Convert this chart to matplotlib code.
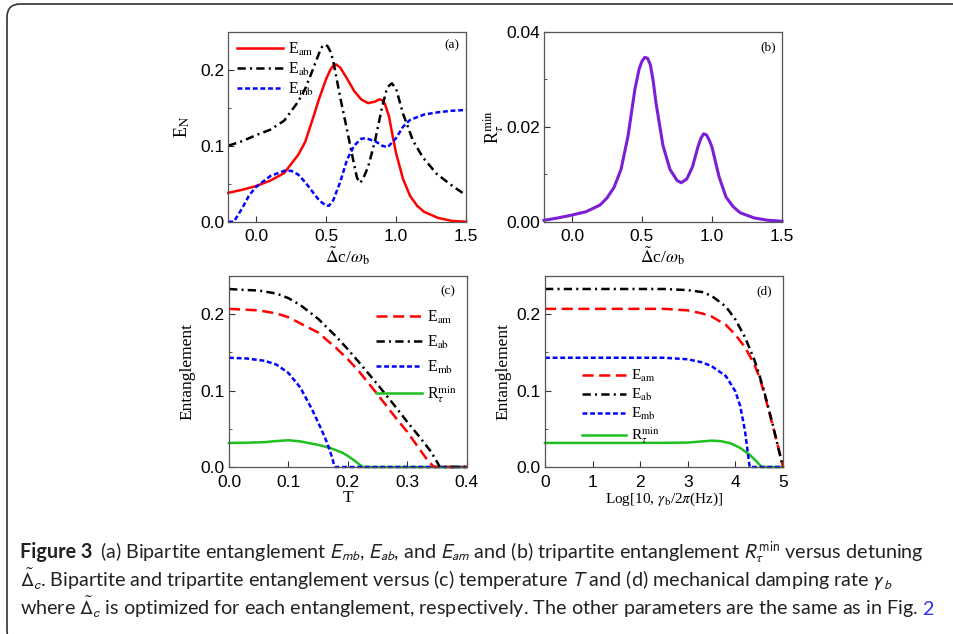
import numpy as np
import matplotlib
matplotlib.use("Agg")
import matplotlib.pyplot as plt
from matplotlib.patches import FancyBboxPatch
from matplotlib.ticker import MultipleLocator

plt.rcParams['font.family'] = ['Liberation Serif', 'DejaVu Serif']
plt.rcParams['mathtext.fontset'] = 'stix'
plt.rcParams['lines.scale_dashes'] = False

# ---- panel (a): E_N vs detuning ----
xa_am = [-0.2, -0.1, 0.0, 0.1, 0.2, 0.3, 0.35, 0.4, 0.45, 0.5, 0.53, 0.55, 0.57, 0.6, 0.65,
         0.7, 0.75, 0.8, 0.85, 0.88, 0.9, 0.92, 0.95, 0.97, 1.0, 1.05, 1.1, 1.15, 1.2, 1.3,
         1.4, 1.5]
ea_am = [0.038, 0.042, 0.047, 0.054, 0.064, 0.088, 0.105, 0.133, 0.162, 0.188, 0.200, 0.205,
         0.207, 0.203, 0.188, 0.172, 0.161, 0.156, 0.158, 0.161, 0.160, 0.155, 0.138, 0.118,
         0.090, 0.056, 0.034, 0.021, 0.013, 0.005, 0.001, 0.0]
xa_ab = [-0.2, -0.1, 0.0, 0.1, 0.2, 0.3, 0.35, 0.4, 0.45, 0.47, 0.49, 0.51, 0.53, 0.55, 0.6,
         0.65, 0.7, 0.72, 0.74, 0.76, 0.8, 0.85, 0.9, 0.93, 0.95, 0.97, 1.0, 1.05, 1.12, 1.19,
         1.29, 1.41, 1.5]
ea_ab = [0.100, 0.106, 0.114, 0.121, 0.133, 0.158, 0.175, 0.198, 0.222, 0.230, 0.233, 0.231,
         0.224, 0.212, 0.164, 0.120, 0.075, 0.058, 0.051, 0.055, 0.072, 0.107, 0.151, 0.172,
         0.179, 0.182, 0.175, 0.142, 0.107, 0.085, 0.063, 0.046, 0.035]
xa_mb = [-0.2, -0.16, -0.1, -0.05, 0.0, 0.1, 0.2, 0.25, 0.3, 0.35, 0.4, 0.45, 0.5, 0.52, 0.55,
         0.6, 0.65, 0.7, 0.75, 0.78, 0.85, 0.9, 0.94, 1.0, 1.05, 1.1, 1.2, 1.3, 1.4, 1.5]
ea_mb = [0.0, 0.0, 0.018, 0.035, 0.046, 0.060, 0.067, 0.067, 0.062, 0.052, 0.040, 0.028, 0.021,
         0.021, 0.028, 0.052, 0.082, 0.100, 0.109, 0.110, 0.106, 0.100, 0.098, 0.110, 0.125,
         0.134, 0.141, 0.144, 0.146, 0.147]

# ---- panel (b): R_tau^min vs detuning ----
xb = [-0.2, -0.1, 0.0, 0.1, 0.2, 0.25, 0.3, 0.35, 0.4, 0.45, 0.48, 0.5, 0.52, 0.54, 0.56, 0.58,
      0.6, 0.65, 0.7, 0.75, 0.78, 0.82, 0.86, 0.9, 0.92, 0.94, 0.96, 0.98, 1.0, 1.05, 1.1,
      1.15, 1.2, 1.3, 1.4, 1.5]
rb = [0.0003, 0.0008, 0.0014, 0.0021, 0.0035, 0.0050, 0.0072, 0.0110, 0.0180, 0.0280, 0.0322,
      0.0338, 0.0346, 0.0344, 0.0330, 0.0296, 0.0250, 0.0160, 0.0110, 0.0087, 0.0082, 0.0090,
      0.0115, 0.0158, 0.0175, 0.0185, 0.0183, 0.0172, 0.0157, 0.0095, 0.0052, 0.0032, 0.0019,
      0.0008, 0.0003, 0.0001]

# ---- panel (c): vs temperature T ----
tc_ab = [0, 0.02, 0.05, 0.08, 0.1, 0.12, 0.15, 0.18, 0.2, 0.22, 0.25, 0.28, 0.3, 0.32, 0.34, 0.355, 0.4]
ec_ab = [0.233, 0.232, 0.231, 0.227, 0.221, 0.212, 0.194, 0.171, 0.154, 0.136, 0.108, 0.079,
         0.059, 0.040, 0.020, 0.0, 0.0]
tc_am = [0, 0.05, 0.08, 0.1, 0.12, 0.15, 0.18, 0.2, 0.22, 0.25, 0.28, 0.3, 0.32, 0.335, 0.345, 0.4]
ec_am = [0.207, 0.205, 0.201, 0.196, 0.188, 0.176, 0.156, 0.141, 0.124, 0.095, 0.065, 0.046,
         0.024, 0.008, 0.0, 0.0]
tc_mb = [0, 0.03, 0.06, 0.08, 0.1, 0.12, 0.14, 0.155, 0.165, 0.172, 0.178, 0.4]
ec_mb = [0.143, 0.142, 0.139, 0.134, 0.123, 0.104, 0.075, 0.050, 0.032, 0.016, 0.0, 0.0]
tc_r = [0, 0.03, 0.06, 0.08, 0.1, 0.12, 0.15, 0.17, 0.19, 0.2, 0.21, 0.225, 0.4]
rc = [0.0315, 0.0318, 0.0325, 0.034, 0.035, 0.0335, 0.029, 0.025, 0.019, 0.0145, 0.009, 0.0, 0.0]

# ---- panel (d): vs log10(gamma_b / 2pi) ----
gd = [0, 0.5, 1, 1.5, 2, 2.5, 3, 3.3, 3.5, 3.8, 4, 4.2, 4.4, 4.5, 4.6, 4.7, 4.8, 4.9, 5]
ed_ab = [0.233, 0.233, 0.233, 0.233, 0.233, 0.233, 0.2315, 0.229, 0.224, 0.210, 0.193, 0.170,
         0.140, 0.121, 0.100, 0.076, 0.052, 0.025, 0.0]
ed_am = [0.207, 0.207, 0.207, 0.207, 0.207, 0.207, 0.205, 0.201, 0.197, 0.186, 0.173, 0.157,
         0.134, 0.118, 0.098, 0.074, 0.050, 0.026, 0.0]
gd_mb = [0, 0.5, 1, 1.5, 2, 2.5, 3, 3.3, 3.5, 3.8, 4.0, 4.1, 4.2, 4.25, 4.3, 5]
ed_mb = [0.143, 0.143, 0.143, 0.143, 0.143, 0.143, 0.141, 0.137, 0.132, 0.119, 0.099, 0.080,
         0.048, 0.024, 0.0, 0.0]
gd_r = [0, 0.5, 1, 1.5, 2, 2.5, 3, 3.3, 3.5, 3.7, 3.9, 4.1, 4.3, 4.45, 4.55, 5]
rd = [0.0315, 0.0315, 0.0315, 0.0315, 0.0315, 0.0316, 0.032, 0.0335, 0.0345, 0.0338, 0.031,
      0.025, 0.016, 0.007, 0.0, 0.0]

RED, BLACK, BLUE, GREEN, PURPLE = '#ff0000', '#000000', '#0000ff', '#1fbf1f', '#7a1fd6'
DASHDOT = (0, (6, 3, 1.5, 3))
SHORT = (0, (3.5, 2))
LONG = (0, (8, 4))
LW = 1.8

lab_am = r'E$_\mathrm{am}$'
lab_ab = r'E$_\mathrm{ab}$'
lab_mb = r'E$_\mathrm{mb}$'
lab_r = r'R$_\tau^\mathrm{min}$'
xlab_det = r'$\tilde{\Delta}$c/$\omega$$_\mathrm{b}$'

W, H = 954, 634
fig = plt.figure(figsize=(W / 100, H / 100), dpi=100)


def make_ax(x0, y_top, x1, y_bot):
    ax = fig.add_axes([x0 / W, 1 - y_bot / H, (x1 - x0) / W, (y_bot - y_top) / H])
    for s in ax.spines.values():
        s.set_color('#555555')
        s.set_linewidth(0.9)
    ax.tick_params(direction='in', which='both', top=False, right=False,
                   labelsize=12.5, color='#333333')
    ax.tick_params(axis='x', pad=5.5)
    ax.tick_params(axis='y', pad=3)
    ax.tick_params(which='major', length=4)
    ax.tick_params(which='minor', length=2.5)
    return ax


def sans_ticks(ax):
    for lbl in ax.get_xticklabels() + ax.get_yticklabels():
        lbl.set_family('Liberation Sans')


axa = make_ax(228.3, 31.7, 466, 221.7)
axb = make_ax(544, 31.7, 782, 221.7)
axc = make_ax(229, 276, 466.7, 467)
axd = make_ax(545, 276, 783, 467)

# (a)
axa.plot(xa_am, ea_am, color=RED, lw=LW, label=lab_am, clip_on=False)
axa.plot(xa_ab, ea_ab, color=BLACK, lw=LW, ls=DASHDOT, label=lab_ab, clip_on=False)
axa.plot(xa_mb, ea_mb, color=BLUE, lw=LW, ls=SHORT, label=lab_mb, clip_on=False)
axa.set_xlim(-0.2, 1.5)
axa.set_ylim(0, 0.25)
axa.set_xticks([0.0, 0.5, 1.0, 1.5])
axa.set_xticklabels(['0.0', '0.5', '1.0', '1.5'])
axa.set_yticks([0.0, 0.1, 0.2])
axa.set_yticklabels(['0.0', '0.1', '0.2'])
axa.yaxis.set_minor_locator(MultipleLocator(0.05))
axa.set_xlabel(xlab_det, fontsize=12.5, labelpad=0)
axa.set_ylabel(r'E$_\mathrm{N}$', fontsize=13, labelpad=6)
axa.legend(loc='upper left', frameon=False, fontsize=11.5, handlelength=2.9,
           handletextpad=0.3, labelspacing=0.2, borderaxespad=0.15)
axa.text(0.94, 0.93, '(a)', transform=axa.transAxes, fontsize=9.5, ha='center', va='center')

# (b)
axb.plot(xb, rb, color=PURPLE, lw=LW + 0.4, clip_on=False)
axb.set_xlim(-0.2, 1.5)
axb.set_ylim(0, 0.04)
axb.set_xticks([0.0, 0.5, 1.0, 1.5])
axb.set_xticklabels(['0.0', '0.5', '1.0', '1.5'])
axb.set_yticks([0.0, 0.02, 0.04])
axb.set_yticklabels(['0.00', '0.02', '0.04'])
axb.yaxis.set_minor_locator(MultipleLocator(0.01))
axb.set_xlabel(xlab_det, fontsize=12.5, labelpad=0)
axb.set_ylabel(lab_r, fontsize=13, labelpad=0)
axb.text(0.94, 0.92, '(b)', transform=axb.transAxes, fontsize=9.5, ha='center', va='center')

# (c)
axc.plot(tc_r, rc, color=GREEN, lw=LW, label=lab_r, clip_on=False)
axc.plot(tc_mb, ec_mb, color=BLUE, lw=LW, ls=SHORT, label=lab_mb, clip_on=False)
axc.plot(tc_am, ec_am, color=RED, lw=LW, ls=LONG, label=lab_am, clip_on=False)
axc.plot(tc_ab, ec_ab, color=BLACK, lw=LW, ls=DASHDOT, label=lab_ab, clip_on=False)
axc.set_xlim(0, 0.4)
axc.set_ylim(0, 0.25)
axc.set_xticks([0.0, 0.1, 0.2, 0.3, 0.4])
axc.set_xticklabels(['0.0', '0.1', '0.2', '0.3', '0.4'])
axc.set_yticks([0.0, 0.1, 0.2])
axc.set_yticklabels(['0.0', '0.1', '0.2'])
axc.yaxis.set_minor_locator(MultipleLocator(0.05))
axc.set_xlabel('T', fontsize=12.5, labelpad=0)
axc.set_ylabel('Entanglement', fontsize=12.5, labelpad=4)
h, l = axc.get_legend_handles_labels()
order = [2, 3, 1, 0]
axc.legend([h[i] for i in order], [l[i] for i in order], loc='upper right',
           bbox_to_anchor=(1.0, 0.88), frameon=False, fontsize=11.5, handlelength=2.9,
           handletextpad=0.3, labelspacing=0.5, borderaxespad=0.2)
axc.text(0.92, 0.92, '(c)', transform=axc.transAxes, fontsize=9.5, ha='center', va='center')

# (d)
axd.plot(gd_r, rd, color=GREEN, lw=LW, label=lab_r, clip_on=False)
axd.plot(gd_mb, ed_mb, color=BLUE, lw=LW, ls=SHORT, label=lab_mb, clip_on=False)
axd.plot(gd, ed_am, color=RED, lw=LW, ls=LONG, label=lab_am, clip_on=False)
axd.plot(gd, ed_ab, color=BLACK, lw=LW, ls=DASHDOT, label=lab_ab, clip_on=False)
axd.set_xlim(0, 5)
axd.set_ylim(0, 0.25)
axd.set_xticks([0, 1, 2, 3, 4, 5])
axd.set_xticklabels(['0', '1', '2', '3', '4', '5'])
axd.set_yticks([0.0, 0.1, 0.2])
axd.set_yticklabels(['0.0', '0.1', '0.2'])
axd.yaxis.set_minor_locator(MultipleLocator(0.05))
axd.set_xlabel(r'Log[10, $\gamma$$_\mathrm{b}$/2$\pi$(Hz)]', fontsize=11, labelpad=1)
axd.set_ylabel('Entanglement', fontsize=12.5, labelpad=4)
h, l = axd.get_legend_handles_labels()
axd.legend([h[i] for i in order], [l[i] for i in order], loc='upper left',
           bbox_to_anchor=(0.13, 0.55), frameon=False, fontsize=11, handlelength=2.9,
           handletextpad=0.3, labelspacing=0.2, borderaxespad=0.0)
axd.text(0.92, 0.92, '(d)', transform=axd.transAxes, fontsize=9.5, ha='center', va='center')

for ax in (axa, axb, axc, axd):
    sans_ticks(ax)

# outer rounded frame
frame = FancyBboxPatch((7 / W, -10 / H), (W + 20) / W, (H + 6) / H,
                       boxstyle='round,pad=0,rounding_size=0.014', transform=fig.transFigure,
                       fill=False, edgecolor='#333333', linewidth=1.2, mutation_aspect=W / H)
fig.patches.append(frame)

# caption
CAP = 'Lato'
CS = 14.2
renderer = fig.canvas.get_renderer()


def seq(parts, x, y):
    for txt, gap, kw in parts:
        t = fig.text(x / W, 1 - y / H, txt, fontsize=CS, family=CAP,
                     math_fontfamily='stixsans', va='baseline',
                     **({'color': '#222222'} | kw))
        bb = t.get_window_extent(renderer)
        x = bb.x1 + gap


seq([('Figure 3', 8, {'weight': 'bold'}),
     (r'(a) Bipartite entanglement $E_{mb}$, $E_{ab}$, and $E_{am}$ and (b) tripartite '
      r'entanglement $R_{\tau}^{\min}$ versus detuning', 0, {})], 20, 558)
seq([(r'$\tilde{\Delta}_c$. Bipartite and tripartite entanglement versus (c) temperature $T$ '
      r'and (d) mechanical damping rate $\gamma_b$', 0, {})], 20, 587)
seq([(r'where $\tilde{\Delta}_c$ is optimized for each entanglement, respectively. '
      r'The other parameters are the same as in Fig.', 4, {}),
     ('2', 0, {'color': '#3333ee'})], 20, 615)

fig.savefig('out.png', dpi=100)
